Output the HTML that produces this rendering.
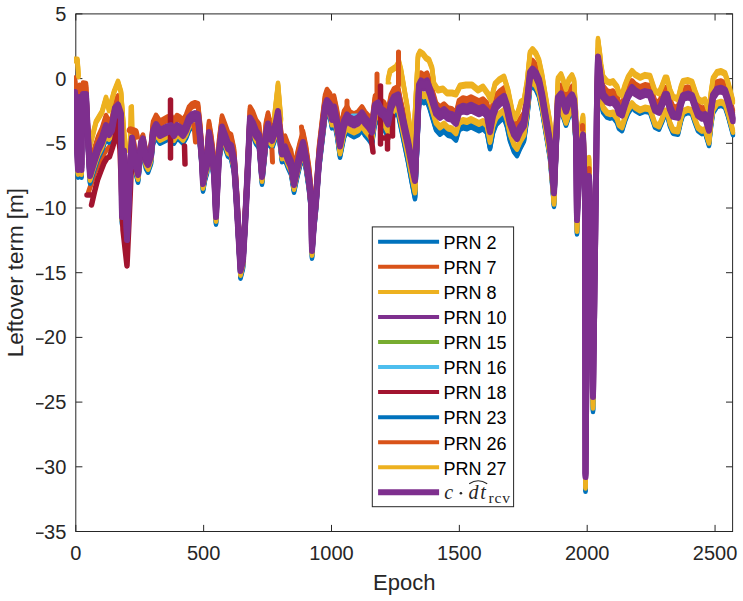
<!DOCTYPE html>
<html><head><meta charset="utf-8"><style>html,body{margin:0;padding:0;background:#fff;width:743px;height:601px;overflow:hidden}svg{display:block}</style></head>
<body><svg width="743" height="601" viewBox="0 0 743 601">
<rect width="743" height="601" fill="#fff"/>
<rect x="75.8" y="13.9" width="656.80" height="517.60" fill="none" stroke="#262626" stroke-width="1"/>
<path d="M75.80,531.5V524.90M75.80,13.9V20.50M203.65,531.5V524.90M203.65,13.9V20.50M331.50,531.5V524.90M331.50,13.9V20.50M459.35,531.5V524.90M459.35,13.9V20.50M587.20,531.5V524.90M587.20,13.9V20.50M715.05,531.5V524.90M715.05,13.9V20.50M75.8,13.90H82.40M732.6,13.90H726.00M75.8,78.60H82.40M732.6,78.60H726.00M75.8,143.30H82.40M732.6,143.30H726.00M75.8,208.00H82.40M732.6,208.00H726.00M75.8,272.70H82.40M732.6,272.70H726.00M75.8,337.40H82.40M732.6,337.40H726.00M75.8,402.10H82.40M732.6,402.10H726.00M75.8,466.80H82.40M732.6,466.80H726.00M75.8,531.50H82.40M732.6,531.50H726.00" stroke="#262626" stroke-width="1" fill="none"/>
<defs><clipPath id="c"><rect x="74" y="0" width="661.5" height="601"/></clipPath></defs>
<g clip-path="url(#c)">
<polyline points="88.5,192.0 91.5,183.0 95.0,172.0 100.0,161.0 105.0,152.0 110.0,146.0 114.0,140.0" fill="none" stroke="#D95319" stroke-width="5" stroke-linejoin="round" stroke-linecap="round"/><polyline points="75.0,103.3 78.0,175.3 79.5,108.3 81.5,175.3 81.8,118.3 83.0,105.3 86.0,105.3 87.5,138.3 90.0,181.3 94.0,168.3 98.0,156.3 102.0,148.3 106.0,136.3 109.0,140.3 112.0,135.8 115.0,118.8 118.0,115.8 121.0,124.8 122.0,222.3 124.0,161.8 127.0,245.3 130.0,178.3 132.0,148.8 135.0,168.3 138.0,180.3 141.0,153.8 143.0,149.8 146.0,166.8 148.0,170.3 151.0,161.8 153.0,141.8 156.0,135.3 160.0,141.3 164.0,139.3 168.0,137.3 171.0,136.3 174.0,141.3 177.0,136.3 180.0,138.3 183.0,141.3 186.0,136.3 189.0,128.3 192.0,125.3 195.0,124.3 198.0,125.3 200.0,143.8 202.0,168.3 203.0,189.3 205.0,178.3 207.0,171.3 209.0,143.3 211.0,155.3 214.0,178.3 216.0,222.3 219.0,161.8 222.0,137.8 225.0,145.8 228.0,154.3 231.0,156.3 234.0,170.3 236.0,198.3 240.5,276.3 243.0,266.3 245.5,223.3 247.0,193.3 248.5,161.8 250.0,128.8 253.0,133.8 256.0,141.8 259.0,145.8 262.0,182.3 266.0,143.8 268.0,134.8 270.0,143.8 272.0,146.3 275.0,137.8 278.0,122.3 280.0,143.8 282.0,159.8 285.0,157.8 288.0,165.8 291.0,172.3 294.0,190.3 297.0,176.3 300.0,163.8 303.0,153.3 306.0,167.8 309.0,188.3 311.0,208.3 312.0,256.3 314.0,228.3 316.0,208.3 319.0,167.8 322.0,141.8 325.0,117.3 327.0,111.3 330.0,115.3 332.0,126.0 334.0,119.2 337.0,134.2 340.0,155.3 344.0,135.4 347.0,129.5 350.0,132.6 354.0,134.8 358.0,132.9 362.0,128.0 365.0,133.1 369.0,137.8 372.0,142.4 375.0,120.5 378.0,118.6 381.0,124.7 384.0,126.8 388.0,134.9 391.0,119.0 394.0,113.1 398.0,111.2 400.0,121.3 404.0,140.6 408.0,160.0 412.0,181.8 415.0,196.8 417.0,150.7 419.0,103.1 421.0,98.4 424.0,100.8 427.0,99.2 430.0,107.5 433.0,117.9 436.0,127.8 440.0,132.3 444.0,129.3 448.0,133.3 452.0,134.3 456.0,138.3 459.0,127.8 463.0,125.8 467.0,126.8 471.0,124.8 475.0,126.8 479.0,128.8 483.0,126.8 487.0,130.8 490.0,146.8 493.0,130.8 496.0,122.8 500.0,118.8 504.0,115.8 507.0,124.8 510.0,138.8 514.0,149.8 517.0,153.8 520.0,146.8 524.0,139.0 527.0,117.6 530.0,87.3 532.5,83.9 536.0,88.0 539.0,94.6 542.0,108.6 545.0,126.7 548.0,144.8 550.0,156.9 554.0,204.5 556.0,157.0 558.0,113.1 561.0,109.2 564.0,117.3 566.0,123.3 569.0,114.4 572.0,110.5 574.0,115.6 576.0,147.6 577.0,232.1 579.0,174.2 583.0,150.8 585.0,214.4 585.5,489.4 587.0,314.4 589.0,192.5 591.0,264.5 593.0,409.6 595.0,264.7 597.0,118.2 598.0,73.2 600.0,88.3 601.0,98.3 603.0,110.3 607.0,115.3 610.0,116.3 613.0,115.3 617.0,120.5 619.0,126.6 622.0,128.8 625.0,119.0 628.0,111.3 632.0,105.1 635.0,108.3 640.0,111.3 645.0,109.3 650.0,110.3 652.0,116.3 655.0,125.3 659.0,127.3 662.0,120.3 665.0,112.3 667.0,112.3 670.0,124.3 673.0,131.3 678.0,132.3 681.0,119.1 683.0,112.8 688.0,110.6 692.0,111.8 695.0,120.8 698.0,128.8 702.0,131.8 705.0,130.8 709.0,143.6 711.0,124.5 713.0,110.9 717.0,104.7 721.0,103.4 725.0,105.2 728.0,114.1 732.0,128.9 733.0,132.8" fill="none" stroke="#0072BD" stroke-width="4.5" stroke-linejoin="round" stroke-linecap="round"/><polyline points="75.0,105.7 78.0,177.7 79.5,110.7 81.5,177.7 81.8,120.7 83.0,107.7 86.0,107.7 87.5,140.7 90.0,183.7 94.0,170.7 98.0,158.7 102.0,150.7 106.0,138.7 109.0,142.7 112.0,138.2 115.0,121.2 118.0,118.2 121.0,127.2 122.0,224.7 124.0,164.2 127.0,247.7 130.0,180.7 132.0,151.2 135.0,170.7 138.0,182.7 141.0,156.2 143.0,152.2 146.0,169.2 148.0,172.7 151.0,164.2 153.0,144.2 156.0,137.7 160.0,143.7 164.0,141.7 168.0,139.7 171.0,138.7 174.0,143.7 177.0,138.7 180.0,140.7 183.0,143.7 186.0,138.7 189.0,130.7 192.0,127.7 195.0,126.7 198.0,127.7 200.0,146.2 202.0,170.7 203.0,191.7 205.0,180.7 207.0,173.7 209.0,145.7 211.0,157.7 214.0,180.7 216.0,224.7 219.0,164.2 222.0,140.2 225.0,148.2 228.0,156.7 231.0,158.7 234.0,172.7 236.0,200.7 240.5,278.7 243.0,268.7 245.5,225.7 247.0,195.7 248.5,164.2 250.0,131.2 253.0,136.2 256.0,144.2 259.0,148.2 262.0,184.7 266.0,146.2 268.0,137.2 270.0,146.2 272.0,148.7 275.0,140.2 278.0,124.7 280.0,146.2 282.0,162.2 285.0,160.2 288.0,168.2 291.0,174.7 294.0,192.7 297.0,178.7 300.0,166.2 303.0,155.7 306.0,170.2 309.0,190.7 311.0,210.7 312.0,258.7 314.0,230.7 316.0,210.7 319.0,170.2 322.0,144.2 325.0,119.7 327.0,113.7 330.0,117.7 332.0,128.4 334.0,121.6 337.0,136.6 340.0,157.7 344.0,137.8 347.0,131.9 350.0,135.0 354.0,137.2 358.0,135.3 362.0,130.4 365.0,135.5 369.0,140.2 372.0,144.8 375.0,122.9 378.0,121.0 381.0,127.1 384.0,129.2 388.0,137.3 391.0,121.4 394.0,115.5 398.0,113.6 400.0,123.7 404.0,143.0 408.0,162.4 412.0,184.2 415.0,199.2 417.0,153.1 419.0,105.5 421.0,100.8 424.0,103.2 427.0,101.6 430.0,110.0 433.0,120.3 436.0,130.2 440.0,134.7 444.0,131.7 448.0,135.7 452.0,136.7 456.0,140.7 459.0,130.2 463.0,128.2 467.0,129.2 471.0,127.2 475.0,129.2 479.0,131.2 483.0,129.2 487.0,133.2 490.0,149.2 493.0,133.2 496.0,125.2 500.0,121.2 504.0,118.2 507.0,127.2 510.0,141.2 514.0,152.2 517.0,156.2 520.0,149.2 524.0,141.4 527.0,120.0 530.0,89.7 532.5,86.3 536.0,90.4 539.0,97.0 542.0,111.0 545.0,129.1 548.0,147.2 550.0,159.3 554.0,206.9 556.0,159.4 558.0,115.5 561.0,111.6 564.0,119.7 566.0,125.7 569.0,116.8 572.0,112.9 574.0,118.0 576.0,150.0 577.0,234.5 579.0,176.6 583.0,153.2 585.0,216.8 585.5,491.8 587.0,316.8 589.0,194.9 591.0,266.9 593.0,412.0 595.0,267.1 597.0,120.6 598.0,75.6 600.0,90.7 601.0,100.7 603.0,112.7 607.0,117.7 610.0,118.7 613.0,117.7 617.0,122.9 619.0,129.0 622.0,131.2 625.0,121.5 628.0,113.7 632.0,107.5 635.0,110.7 640.0,113.7 645.0,111.7 650.0,112.7 652.0,118.7 655.0,127.7 659.0,129.7 662.0,122.7 665.0,114.7 667.0,114.7 670.0,126.7 673.0,133.7 678.0,134.7 681.0,121.5 683.0,115.2 688.0,113.0 692.0,114.2 695.0,123.2 698.0,131.2 702.0,134.2 705.0,133.2 709.0,146.0 711.0,126.9 713.0,113.3 717.0,107.1 721.0,105.8 725.0,107.6 728.0,116.5 732.0,131.3 733.0,135.2" fill="none" stroke="#0072BD" stroke-width="4.5" stroke-linejoin="round" stroke-linecap="round"/><polyline points="75.0,104.5 78.0,176.5 79.5,109.5 81.5,176.5 81.8,119.5 83.0,106.5 86.0,106.5 87.5,139.5 90.0,182.5 94.0,169.5 98.0,157.5 102.0,149.5 106.0,137.5 109.0,141.5 112.0,137.0 115.0,120.0 118.0,117.0 121.0,126.0 122.0,223.5 124.0,163.0 127.0,246.5 130.0,179.5 132.0,150.0 135.0,169.5 138.0,181.5 141.0,155.0 143.0,151.0 146.0,168.0 148.0,171.5 151.0,163.0 153.0,143.0 156.0,136.5 160.0,142.5 164.0,140.5 168.0,138.5 171.0,137.5 174.0,142.5 177.0,137.5 180.0,139.5 183.0,142.5 186.0,137.5 189.0,129.5 192.0,126.5 195.0,125.5 198.0,126.5 200.0,145.0 202.0,169.5 203.0,190.5 205.0,179.5 207.0,172.5 209.0,144.5 211.0,156.5 214.0,179.5 216.0,223.5 219.0,163.0 222.0,139.0 225.0,147.0 228.0,155.5 231.0,157.5 234.0,171.5 236.0,199.5 240.5,277.5 243.0,267.5 245.5,224.5 247.0,194.5 248.5,163.0 250.0,130.0 253.0,135.0 256.0,143.0 259.0,147.0 262.0,183.5 266.0,145.0 268.0,136.0 270.0,145.0 272.0,147.5 275.0,139.0 278.0,123.5 280.0,145.0 282.0,161.0 285.0,159.0 288.0,167.0 291.0,173.5 294.0,191.5 297.0,177.5 300.0,165.0 303.0,154.5 306.0,169.0 309.0,189.5 311.0,209.5 312.0,257.5 314.0,229.5 316.0,209.5 319.0,169.0 322.0,143.0 325.0,118.5 327.0,112.5 330.0,116.5 332.0,127.2 334.0,120.4 337.0,135.4 340.0,156.5 344.0,136.6 347.0,130.7 350.0,133.8 354.0,136.0 358.0,134.1 362.0,129.2 365.0,134.3 369.0,139.0 372.0,143.6 375.0,121.7 378.0,119.8 381.0,125.9 384.0,128.0 388.0,136.1 391.0,120.2 394.0,114.3 398.0,112.4 400.0,122.5 404.0,141.8 408.0,161.2 412.0,183.0 415.0,198.0 417.0,151.9 419.0,104.3 421.0,99.6 424.0,102.0 427.0,100.4 430.0,108.8 433.0,119.1 436.0,129.0 440.0,133.5 444.0,130.5 448.0,134.5 452.0,135.5 456.0,139.5 459.0,129.0 463.0,127.0 467.0,128.0 471.0,126.0 475.0,128.0 479.0,130.0 483.0,128.0 487.0,132.0 490.0,148.0 493.0,132.0 496.0,124.0 500.0,120.0 504.0,117.0 507.0,126.0 510.0,140.0 514.0,151.0 517.0,155.0 520.0,148.0 524.0,140.2 527.0,118.8 530.0,88.5 532.5,85.1 536.0,89.2 539.0,95.8 542.0,109.8 545.0,127.9 548.0,146.0 550.0,158.1 554.0,205.7 556.0,158.2 558.0,114.3 561.0,110.4 564.0,118.5 566.0,124.5 569.0,115.6 572.0,111.7 574.0,116.8 576.0,148.8 577.0,233.3 579.0,175.4 583.0,152.0 585.0,215.6 585.5,490.6 587.0,315.6 589.0,193.7 591.0,265.7 593.0,410.8 595.0,265.9 597.0,119.4 598.0,74.4 600.0,89.5 601.0,99.5 603.0,111.5 607.0,116.5 610.0,117.5 613.0,116.5 617.0,121.7 619.0,127.8 622.0,130.0 625.0,120.2 628.0,112.5 632.0,106.3 635.0,109.5 640.0,112.5 645.0,110.5 650.0,111.5 652.0,117.5 655.0,126.5 659.0,128.5 662.0,121.5 665.0,113.5 667.0,113.5 670.0,125.5 673.0,132.5 678.0,133.5 681.0,120.3 683.0,114.0 688.0,111.8 692.0,113.0 695.0,122.0 698.0,130.0 702.0,133.0 705.0,132.0 709.0,144.8 711.0,125.7 713.0,112.1 717.0,105.9 721.0,104.6 725.0,106.4 728.0,115.3 732.0,130.1 733.0,134.0" fill="none" stroke="#0072BD" stroke-width="4.5" stroke-linejoin="round" stroke-linecap="round"/><polyline points="75.0,100.3 78.0,172.3 79.5,105.3 81.5,172.3 81.8,115.3 83.0,102.3 86.0,102.3 87.5,135.3 90.0,178.3 94.0,165.3 98.0,153.3 102.0,145.3 106.0,133.3 109.0,137.3 112.0,132.8 115.0,115.8 118.0,112.8 121.0,121.8 122.0,219.3 124.0,158.8 127.0,242.3 130.0,175.3 132.0,145.8 135.0,165.3 138.0,177.3 141.0,150.8 143.0,146.8 146.0,163.8 148.0,167.3 151.0,158.8 153.0,138.8 156.0,132.3 160.0,138.3 164.0,136.3 168.0,134.3 171.0,133.3 174.0,138.3 177.0,133.3 180.0,135.3 183.0,138.3 186.0,133.3 189.0,125.3 192.0,122.3 195.0,121.3 198.0,122.3 200.0,140.8 202.0,165.3 203.0,186.3 205.0,175.3 207.0,168.3 209.0,140.3 211.0,152.3 214.0,175.3 216.0,219.3 219.0,158.8 222.0,134.8 225.0,142.8 228.0,151.3 231.0,153.3 234.0,167.3 236.0,195.3 240.5,273.3 243.0,263.3 245.5,220.3 247.0,190.3 248.5,158.8 250.0,125.8 253.0,130.8 256.0,138.8 259.0,142.8 262.0,179.3 266.0,140.8 268.0,131.8 270.0,140.8 272.0,143.3 275.0,134.8 278.0,119.3 280.0,140.8 282.0,156.8 285.0,154.8 288.0,162.8 291.0,169.3 294.0,187.3 297.0,173.3 300.0,160.8 303.0,150.3 306.0,164.8 309.0,185.3 311.0,205.3 312.0,253.3 314.0,225.3 316.0,205.3 319.0,164.8 322.0,138.8 325.0,114.3 327.0,108.3 330.0,112.3 332.0,122.9 334.0,116.0 337.0,130.9 340.0,151.8 344.0,131.8 347.0,125.9 350.0,128.9 354.0,130.9 358.0,129.0 362.0,124.0 365.0,129.0 369.0,133.5 372.0,138.1 375.0,116.1 378.0,114.1 381.0,120.1 384.0,122.2 388.0,130.2 391.0,114.2 394.0,108.2 398.0,106.3 400.0,116.3 404.0,135.4 408.0,154.4 412.0,176.0 415.0,190.8 417.0,144.7 419.0,97.1 421.0,92.4 424.0,94.7 427.0,93.0 430.0,101.3 433.0,111.6 436.0,121.4 440.0,125.8 444.0,122.8 448.0,126.8 452.0,127.8 456.0,131.8 459.0,121.3 463.0,119.3 467.0,120.3 471.0,118.3 475.0,120.3 479.0,122.3 483.0,120.3 487.0,124.3 490.0,140.3 493.0,124.3 496.0,116.3 500.0,112.3 504.0,109.3 507.0,118.3 510.0,132.3 514.0,143.3 517.0,147.3 520.0,140.3 524.0,133.5 527.0,112.9 530.0,83.3 532.5,80.0 536.0,84.4 539.0,91.2 542.0,105.5 545.0,123.8 548.0,142.1 550.0,154.3 554.0,202.2 556.0,154.9 558.0,111.1 561.0,107.3 564.0,115.2 566.0,121.1 569.0,112.1 572.0,108.0 574.0,113.0 576.0,144.9 577.0,229.4 579.0,171.3 583.0,147.7 585.0,211.2 585.5,486.2 587.0,311.1 589.0,189.1 591.0,261.0 593.0,406.0 595.0,260.9 597.0,114.4 598.0,69.3 600.0,84.3 601.0,94.3 603.0,106.4 607.0,111.5 610.0,112.6 613.0,111.7 617.0,117.0 619.0,123.3 622.0,125.7 625.0,116.0 628.0,108.4 632.0,102.4 635.0,105.8 640.0,108.8 645.0,106.8 650.0,107.8 652.0,113.8 655.0,122.8 659.0,124.8 662.0,117.8 665.0,109.8 667.0,109.8 670.0,121.8 673.0,128.8 678.0,129.8 681.0,116.6 683.0,110.3 688.0,108.1 692.0,109.3 695.0,118.3 698.0,126.3 702.0,129.3 705.0,128.3 709.0,141.1 711.0,122.0 713.0,108.4 717.0,102.2 721.0,100.9 725.0,102.7 728.0,111.6 732.0,126.4 733.0,130.3" fill="none" stroke="#EDB120" stroke-width="4.5" stroke-linejoin="round" stroke-linecap="round"/><polyline points="75.0,102.7 78.0,174.7 79.5,107.7 81.5,174.7 81.8,117.7 83.0,104.7 86.0,104.7 87.5,137.7 90.0,180.7 94.0,167.7 98.0,155.7 102.0,147.7 106.0,135.7 109.0,139.7 112.0,135.2 115.0,118.2 118.0,115.2 121.0,124.2 122.0,221.7 124.0,161.2 127.0,244.7 130.0,177.7 132.0,148.2 135.0,167.7 138.0,179.7 141.0,153.2 143.0,149.2 146.0,166.2 148.0,169.7 151.0,161.2 153.0,141.2 156.0,134.7 160.0,140.7 164.0,138.7 168.0,136.7 171.0,135.7 174.0,140.7 177.0,135.7 180.0,137.7 183.0,140.7 186.0,135.7 189.0,127.7 192.0,124.7 195.0,123.7 198.0,124.7 200.0,143.2 202.0,167.7 203.0,188.7 205.0,177.7 207.0,170.7 209.0,142.7 211.0,154.7 214.0,177.7 216.0,221.7 219.0,161.2 222.0,137.2 225.0,145.2 228.0,153.7 231.0,155.7 234.0,169.7 236.0,197.7 240.5,275.7 243.0,265.7 245.5,222.7 247.0,192.7 248.5,161.2 250.0,128.2 253.0,133.2 256.0,141.2 259.0,145.2 262.0,181.7 266.0,143.2 268.0,134.2 270.0,143.2 272.0,145.7 275.0,137.2 278.0,121.7 280.0,143.2 282.0,159.2 285.0,157.2 288.0,165.2 291.0,171.7 294.0,189.7 297.0,175.7 300.0,163.2 303.0,152.7 306.0,167.2 309.0,187.7 311.0,207.7 312.0,255.7 314.0,227.7 316.0,207.7 319.0,167.2 322.0,141.2 325.0,116.7 327.0,110.7 330.0,114.7 332.0,125.3 334.0,118.4 337.0,133.3 340.0,154.2 344.0,134.2 347.0,128.3 350.0,131.3 354.0,133.3 358.0,131.3 362.0,126.4 365.0,131.4 369.0,135.9 372.0,140.5 375.0,118.5 378.0,116.5 381.0,122.5 384.0,124.6 388.0,132.6 391.0,116.6 394.0,110.7 398.0,108.7 400.0,118.7 404.0,137.8 408.0,156.8 412.0,178.4 415.0,193.2 417.0,147.1 419.0,99.5 421.0,94.8 424.0,97.1 427.0,95.4 430.0,103.7 433.0,114.0 436.0,123.8 440.0,128.2 444.0,125.2 448.0,129.2 452.0,130.2 456.0,134.2 459.0,123.7 463.0,121.7 467.0,122.7 471.0,120.7 475.0,122.7 479.0,124.7 483.0,122.7 487.0,126.7 490.0,142.7 493.0,126.7 496.0,118.7 500.0,114.7 504.0,111.7 507.0,120.7 510.0,134.7 514.0,145.7 517.0,149.7 520.0,142.7 524.0,135.9 527.0,115.3 530.0,85.7 532.5,82.5 536.0,86.8 539.0,93.6 542.0,107.9 545.0,126.2 548.0,144.5 550.0,156.7 554.0,204.6 556.0,157.3 558.0,113.5 561.0,109.7 564.0,117.6 566.0,123.5 569.0,114.5 572.0,110.4 574.0,115.4 576.0,147.3 577.0,231.8 579.0,173.7 583.0,150.1 585.0,213.6 585.5,488.6 587.0,313.5 589.0,191.5 591.0,263.4 593.0,408.4 595.0,263.3 597.0,116.8 598.0,71.8 600.0,86.7 601.0,96.7 603.0,108.8 607.0,113.9 610.0,115.0 613.0,114.1 617.0,119.5 619.0,125.7 622.0,128.1 625.0,118.5 628.0,110.8 632.0,104.8 635.0,108.2 640.0,111.2 645.0,109.2 650.0,110.2 652.0,116.2 655.0,125.2 659.0,127.2 662.0,120.2 665.0,112.2 667.0,112.2 670.0,124.2 673.0,131.2 678.0,132.2 681.0,119.0 683.0,112.8 688.0,110.5 692.0,111.7 695.0,120.7 698.0,128.7 702.0,131.7 705.0,130.7 709.0,143.5 711.0,124.4 713.0,110.8 717.0,104.6 721.0,103.3 725.0,105.1 728.0,114.0 732.0,128.8 733.0,132.7" fill="none" stroke="#EDB120" stroke-width="4.5" stroke-linejoin="round" stroke-linecap="round"/><polyline points="75.0,101.5 78.0,173.5 79.5,106.5 81.5,173.5 81.8,116.5 83.0,103.5 86.0,103.5 87.5,136.5 90.0,179.5 94.0,166.5 98.0,154.5 102.0,146.5 106.0,134.5 109.0,138.5 112.0,134.0 115.0,117.0 118.0,114.0 121.0,123.0 122.0,220.5 124.0,160.0 127.0,243.5 130.0,176.5 132.0,147.0 135.0,166.5 138.0,178.5 141.0,152.0 143.0,148.0 146.0,165.0 148.0,168.5 151.0,160.0 153.0,140.0 156.0,133.5 160.0,139.5 164.0,137.5 168.0,135.5 171.0,134.5 174.0,139.5 177.0,134.5 180.0,136.5 183.0,139.5 186.0,134.5 189.0,126.5 192.0,123.5 195.0,122.5 198.0,123.5 200.0,142.0 202.0,166.5 203.0,187.5 205.0,176.5 207.0,169.5 209.0,141.5 211.0,153.5 214.0,176.5 216.0,220.5 219.0,160.0 222.0,136.0 225.0,144.0 228.0,152.5 231.0,154.5 234.0,168.5 236.0,196.5 240.5,274.5 243.0,264.5 245.5,221.5 247.0,191.5 248.5,160.0 250.0,127.0 253.0,132.0 256.0,140.0 259.0,144.0 262.0,180.5 266.0,142.0 268.0,133.0 270.0,142.0 272.0,144.5 275.0,136.0 278.0,120.5 280.0,142.0 282.0,158.0 285.0,156.0 288.0,164.0 291.0,170.5 294.0,188.5 297.0,174.5 300.0,162.0 303.0,151.5 306.0,166.0 309.0,186.5 311.0,206.5 312.0,254.5 314.0,226.5 316.0,206.5 319.0,166.0 322.0,140.0 325.0,115.5 327.0,109.5 330.0,113.5 332.0,124.1 334.0,117.2 337.0,132.1 340.0,153.0 344.0,133.0 347.0,127.1 350.0,130.1 354.0,132.1 358.0,130.2 362.0,125.2 365.0,130.2 369.0,134.7 372.0,139.3 375.0,117.3 378.0,115.3 381.0,121.3 384.0,123.4 388.0,131.4 391.0,115.4 394.0,109.5 398.0,107.5 400.0,117.5 404.0,136.6 408.0,155.6 412.0,177.2 415.0,192.0 417.0,145.9 419.0,98.3 421.0,93.6 424.0,95.9 427.0,94.2 430.0,102.5 433.0,112.8 436.0,122.6 440.0,127.0 444.0,124.0 448.0,128.0 452.0,129.0 456.0,133.0 459.0,122.5 463.0,120.5 467.0,121.5 471.0,119.5 475.0,121.5 479.0,123.5 483.0,121.5 487.0,125.5 490.0,141.5 493.0,125.5 496.0,117.5 500.0,113.5 504.0,110.5 507.0,119.5 510.0,133.5 514.0,144.5 517.0,148.5 520.0,141.5 524.0,134.7 527.0,114.1 530.0,84.5 532.5,81.2 536.0,85.6 539.0,92.4 542.0,106.7 545.0,125.0 548.0,143.3 550.0,155.5 554.0,203.4 556.0,156.1 558.0,112.3 561.0,108.5 564.0,116.4 566.0,122.3 569.0,113.3 572.0,109.2 574.0,114.2 576.0,146.1 577.0,230.6 579.0,172.5 583.0,148.9 585.0,212.4 585.5,487.4 587.0,312.3 589.0,190.3 591.0,262.2 593.0,407.2 595.0,262.1 597.0,115.6 598.0,70.5 600.0,85.5 601.0,95.5 603.0,107.6 607.0,112.7 610.0,113.8 613.0,112.9 617.0,118.2 619.0,124.5 622.0,126.9 625.0,117.2 628.0,109.6 632.0,103.6 635.0,107.0 640.0,110.0 645.0,108.0 650.0,109.0 652.0,115.0 655.0,124.0 659.0,126.0 662.0,119.0 665.0,111.0 667.0,111.0 670.0,123.0 673.0,130.0 678.0,131.0 681.0,117.8 683.0,111.5 688.0,109.3 692.0,110.5 695.0,119.5 698.0,127.5 702.0,130.5 705.0,129.5 709.0,142.3 711.0,123.2 713.0,109.6 717.0,103.4 721.0,102.1 725.0,103.9 728.0,112.8 732.0,127.6 733.0,131.5" fill="none" stroke="#EDB120" stroke-width="4.5" stroke-linejoin="round" stroke-linecap="round"/><polyline points="75.0,77.5 78.0,151.0 79.5,84.8 81.5,152.2 81.8,95.3 83.0,82.5 86.0,83.0 87.5,117.5 90.0,163.0 94.0,149.2 98.0,136.4 102.0,127.7 106.0,115.0 109.0,120.5 112.0,117.5 115.0,99.5 118.0,95.5 121.0,105.4 122.0,203.1 124.0,143.2 127.0,225.4 130.0,156.0 132.0,127.5 135.0,148.5 138.0,163.0 141.0,138.5 143.0,134.5 146.0,151.5 148.0,154.0 151.0,142.5 153.0,121.5 156.0,114.8 160.0,120.7 164.0,118.5 168.0,116.3 171.0,115.2 174.0,120.1 177.0,115.0 180.0,116.8 183.0,119.7 186.0,114.6 189.0,106.5 192.0,103.3 195.0,102.2 198.0,103.1 200.0,121.5 202.0,146.0 203.0,167.0 205.0,156.0 207.0,149.0 209.0,121.0 211.0,133.0 214.0,156.0 216.0,200.0 219.0,139.5 222.0,115.5 225.0,123.5 228.0,132.0 231.0,134.0 234.0,148.0 236.0,176.0 240.5,254.0 243.0,244.0 245.5,201.0 247.0,171.0 248.5,139.5 250.0,106.5 253.0,111.5 256.0,119.5 259.0,123.5 262.0,160.0 266.0,121.5 268.0,112.5 270.0,121.5 272.0,124.0 275.0,115.5 278.0,100.0 280.0,121.5 282.0,137.5 285.0,135.5 288.0,143.5 291.0,150.0 294.0,168.0 297.0,154.0 300.0,141.5 303.0,131.0 306.0,145.5 309.0,166.0 311.0,186.0 312.0,234.0 314.0,206.0 316.0,186.0 319.0,145.5 322.0,119.5 325.0,95.0 327.0,89.0 330.0,93.0 332.0,103.0 334.0,95.5 337.0,109.5 340.0,129.5 344.0,110.8 347.0,106.2 350.0,111.5 354.0,113.5 358.0,111.5 362.0,106.5 365.0,111.5 369.0,116.0 372.0,118.7 375.0,95.5 378.0,93.7 381.0,99.8 384.0,101.9 388.0,110.0 391.0,94.2 394.0,88.3 398.0,86.4 400.0,96.5 404.0,114.5 408.0,132.5 412.0,153.0 415.0,167.0 417.0,122.5 419.0,76.5 421.0,72.5 424.0,74.5 427.0,72.5 430.0,80.5 433.0,91.8 436.0,102.5 440.0,106.5 444.0,103.5 448.0,107.5 452.0,108.5 456.0,112.5 459.0,100.1 463.0,97.5 467.0,98.5 471.0,96.5 475.0,98.5 479.0,100.5 483.0,98.5 487.0,102.5 490.0,118.5 493.0,102.5 496.0,94.5 500.0,90.5 504.0,87.5 507.0,96.5 510.0,110.5 514.0,121.5 517.0,125.5 520.0,118.5 524.0,112.5 527.0,92.5 530.0,63.5 532.5,60.0 536.0,64.1 539.0,70.6 542.0,84.6 545.0,102.7 548.0,120.7 550.0,132.7 554.0,180.3 556.0,132.8 558.0,88.8 561.0,84.9 564.0,92.9 566.0,98.9 569.0,90.0 572.0,86.0 574.0,91.0 576.0,123.0 577.0,207.6 579.0,149.6 583.0,126.1 585.0,189.6 585.5,464.7 587.0,289.7 589.0,167.7 591.0,239.7 593.0,384.7 595.0,239.8 597.0,93.3 598.0,48.3 600.0,63.3 601.0,73.3 603.0,85.4 607.0,90.4 610.0,91.4 613.0,90.5 617.0,95.7 619.0,101.8 622.0,104.0 625.0,94.2 628.0,86.5 632.0,80.3 635.0,83.5 640.0,86.4 645.0,84.3 650.0,85.2 652.0,91.2 655.0,100.1 659.0,102.0 662.0,95.0 665.0,87.0 667.0,87.0 670.0,99.0 673.0,106.0 678.0,107.0 681.0,94.0 683.0,88.0 688.0,86.5 692.0,88.0 695.0,97.0 698.0,105.0 702.0,108.0 705.0,107.0 709.0,120.0 711.0,101.0 713.0,87.5 717.0,81.5 721.0,80.5 725.0,82.5 728.0,91.5 732.0,106.5 733.0,110.5" fill="none" stroke="#D95319" stroke-width="4.5" stroke-linejoin="round" stroke-linecap="round"/><polyline points="75.0,81.5 78.0,155.0 79.5,88.8 81.5,156.2 81.8,99.3 83.0,86.5 86.0,87.0 87.5,121.5 90.0,167.0 94.0,153.2 98.0,140.4 102.0,131.7 106.0,119.0 109.0,124.5 112.0,121.5 115.0,103.5 118.0,99.5 121.0,109.4 122.0,207.1 124.0,147.2 127.0,229.4 130.0,160.0 132.0,131.5 135.0,152.5 138.0,167.0 141.0,142.5 143.0,138.5 146.0,155.5 148.0,158.0 151.0,146.5 153.0,125.5 156.0,118.8 160.0,124.7 164.0,122.5 168.0,120.3 171.0,119.2 174.0,124.1 177.0,119.0 180.0,120.8 183.0,123.7 186.0,118.6 189.0,110.5 192.0,107.3 195.0,106.2 198.0,107.1 200.0,125.5 202.0,150.0 203.0,171.0 205.0,160.0 207.0,153.0 209.0,125.0 211.0,137.0 214.0,160.0 216.0,204.0 219.0,143.5 222.0,119.5 225.0,127.5 228.0,136.0 231.0,138.0 234.0,152.0 236.0,180.0 240.5,258.0 243.0,248.0 245.5,205.0 247.0,175.0 248.5,143.5 250.0,110.5 253.0,115.5 256.0,123.5 259.0,127.5 262.0,164.0 266.0,125.5 268.0,116.5 270.0,125.5 272.0,128.0 275.0,119.5 278.0,104.0 280.0,125.5 282.0,141.5 285.0,139.5 288.0,147.5 291.0,154.0 294.0,172.0 297.0,158.0 300.0,145.5 303.0,135.0 306.0,149.5 309.0,170.0 311.0,190.0 312.0,238.0 314.0,210.0 316.0,190.0 319.0,149.5 322.0,123.5 325.0,99.0 327.0,93.0 330.0,97.0 332.0,107.0 334.0,99.5 337.0,113.5 340.0,133.5 344.0,114.8 347.0,110.2 350.0,115.5 354.0,117.5 358.0,115.5 362.0,110.5 365.0,115.5 369.0,120.0 372.0,122.7 375.0,99.5 378.0,97.7 381.0,103.8 384.0,105.9 388.0,114.0 391.0,98.2 394.0,92.3 398.0,90.4 400.0,100.5 404.0,118.5 408.0,136.5 412.0,157.0 415.0,171.0 417.0,126.5 419.0,80.5 421.0,76.5 424.0,78.5 427.0,76.5 430.0,84.5 433.0,95.8 436.0,106.5 440.0,110.5 444.0,107.5 448.0,111.5 452.0,112.5 456.0,116.5 459.0,104.1 463.0,101.5 467.0,102.5 471.0,100.5 475.0,102.5 479.0,104.5 483.0,102.5 487.0,106.5 490.0,122.5 493.0,106.5 496.0,98.5 500.0,94.5 504.0,91.5 507.0,100.5 510.0,114.5 514.0,125.5 517.0,129.5 520.0,122.5 524.0,116.5 527.0,96.5 530.0,67.5 532.5,64.0 536.0,68.1 539.0,74.6 542.0,88.6 545.0,106.7 548.0,124.7 550.0,136.7 554.0,184.3 556.0,136.8 558.0,92.8 561.0,88.9 564.0,96.9 566.0,102.9 569.0,94.0 572.0,90.0 574.0,95.0 576.0,127.0 577.0,211.6 579.0,153.6 583.0,130.1 585.0,193.6 585.5,468.7 587.0,293.7 589.0,171.7 591.0,243.7 593.0,388.7 595.0,243.8 597.0,97.3 598.0,52.3 600.0,67.3 601.0,77.3 603.0,89.4 607.0,94.4 610.0,95.4 613.0,94.5 617.0,99.7 619.0,105.8 622.0,108.0 625.0,98.2 628.0,90.5 632.0,84.3 635.0,87.5 640.0,90.4 645.0,88.3 650.0,89.2 652.0,95.2 655.0,104.1 659.0,106.0 662.0,99.0 665.0,91.0 667.0,91.0 670.0,103.0 673.0,110.0 678.0,111.0 681.0,98.0 683.0,92.0 688.0,90.5 692.0,92.0 695.0,101.0 698.0,109.0 702.0,112.0 705.0,111.0 709.0,124.0 711.0,105.0 713.0,91.5 717.0,85.5 721.0,84.5 725.0,86.5 728.0,95.5 732.0,110.5 733.0,114.5" fill="none" stroke="#D95319" stroke-width="4.5" stroke-linejoin="round" stroke-linecap="round"/><polyline points="75.0,79.5 78.0,153.0 79.5,86.8 81.5,154.2 81.8,97.3 83.0,84.5 86.0,85.0 87.5,119.5 90.0,165.0 94.0,151.2 98.0,138.4 102.0,129.7 106.0,117.0 109.0,122.5 112.0,119.5 115.0,101.5 118.0,97.5 121.0,107.4 122.0,205.1 124.0,145.2 127.0,227.4 130.0,158.0 132.0,129.5 135.0,150.5 138.0,165.0 141.0,140.5 143.0,136.5 146.0,153.5 148.0,156.0 151.0,144.5 153.0,123.5 156.0,116.8 160.0,122.7 164.0,120.5 168.0,118.3 171.0,117.2 174.0,122.1 177.0,117.0 180.0,118.8 183.0,121.7 186.0,116.6 189.0,108.5 192.0,105.3 195.0,104.2 198.0,105.1 200.0,123.5 202.0,148.0 203.0,169.0 205.0,158.0 207.0,151.0 209.0,123.0 211.0,135.0 214.0,158.0 216.0,202.0 219.0,141.5 222.0,117.5 225.0,125.5 228.0,134.0 231.0,136.0 234.0,150.0 236.0,178.0 240.5,256.0 243.0,246.0 245.5,203.0 247.0,173.0 248.5,141.5 250.0,108.5 253.0,113.5 256.0,121.5 259.0,125.5 262.0,162.0 266.0,123.5 268.0,114.5 270.0,123.5 272.0,126.0 275.0,117.5 278.0,102.0 280.0,123.5 282.0,139.5 285.0,137.5 288.0,145.5 291.0,152.0 294.0,170.0 297.0,156.0 300.0,143.5 303.0,133.0 306.0,147.5 309.0,168.0 311.0,188.0 312.0,236.0 314.0,208.0 316.0,188.0 319.0,147.5 322.0,121.5 325.0,97.0 327.0,91.0 330.0,95.0 332.0,105.0 334.0,97.5 337.0,111.5 340.0,131.5 344.0,112.8 347.0,108.2 350.0,113.5 354.0,115.5 358.0,113.5 362.0,108.5 365.0,113.5 369.0,118.0 372.0,120.7 375.0,97.5 378.0,95.7 381.0,101.8 384.0,103.9 388.0,112.0 391.0,96.2 394.0,90.3 398.0,88.4 400.0,98.5 404.0,116.5 408.0,134.5 412.0,155.0 415.0,169.0 417.0,124.5 419.0,78.5 421.0,74.5 424.0,76.5 427.0,74.5 430.0,82.5 433.0,93.8 436.0,104.5 440.0,108.5 444.0,105.5 448.0,109.5 452.0,110.5 456.0,114.5 459.0,102.1 463.0,99.5 467.0,100.5 471.0,98.5 475.0,100.5 479.0,102.5 483.0,100.5 487.0,104.5 490.0,120.5 493.0,104.5 496.0,96.5 500.0,92.5 504.0,89.5 507.0,98.5 510.0,112.5 514.0,123.5 517.0,127.5 520.0,120.5 524.0,114.5 527.0,94.5 530.0,65.5 532.5,62.0 536.0,66.1 539.0,72.6 542.0,86.6 545.0,104.7 548.0,122.7 550.0,134.7 554.0,182.3 556.0,134.8 558.0,90.8 561.0,86.9 564.0,94.9 566.0,100.9 569.0,92.0 572.0,88.0 574.0,93.0 576.0,125.0 577.0,209.6 579.0,151.6 583.0,128.1 585.0,191.6 585.5,466.7 587.0,291.7 589.0,169.7 591.0,241.7 593.0,386.7 595.0,241.8 597.0,95.3 598.0,50.3 600.0,65.3 601.0,75.3 603.0,87.4 607.0,92.4 610.0,93.4 613.0,92.5 617.0,97.7 619.0,103.8 622.0,106.0 625.0,96.2 628.0,88.5 632.0,82.3 635.0,85.5 640.0,88.4 645.0,86.3 650.0,87.2 652.0,93.2 655.0,102.1 659.0,104.0 662.0,97.0 665.0,89.0 667.0,89.0 670.0,101.0 673.0,108.0 678.0,109.0 681.0,96.0 683.0,90.0 688.0,88.5 692.0,90.0 695.0,99.0 698.0,107.0 702.0,110.0 705.0,109.0 709.0,122.0 711.0,103.0 713.0,89.5 717.0,83.5 721.0,82.5 725.0,84.5 728.0,93.5 732.0,108.5 733.0,112.5" fill="none" stroke="#D95319" stroke-width="4.5" stroke-linejoin="round" stroke-linecap="round"/><polyline points="74.5,58.8 77.5,58.8 78.5,74.8" fill="none" stroke="#EDB120" stroke-width="4.5" stroke-linejoin="round" stroke-linecap="round"/><polyline points="74.5,61.2 77.5,61.2 78.5,77.2" fill="none" stroke="#EDB120" stroke-width="4.5" stroke-linejoin="round" stroke-linecap="round"/><polyline points="74.5,60.0 77.5,60.0 78.5,76.0" fill="none" stroke="#EDB120" stroke-width="4.5" stroke-linejoin="round" stroke-linecap="round"/><polyline points="89.0,148.8 91.0,140.8 96.0,120.8 102.0,110.8 106.0,96.8 109.0,108.8 114.0,90.8 118.0,80.8 121.0,90.8 124.0,130.8 126.0,148.8" fill="none" stroke="#EDB120" stroke-width="4.5" stroke-linejoin="round" stroke-linecap="round"/><polyline points="89.0,151.2 91.0,143.2 96.0,123.2 102.0,113.2 106.0,99.2 109.0,111.2 114.0,93.2 118.0,83.2 121.0,93.2 124.0,133.2 126.0,151.2" fill="none" stroke="#EDB120" stroke-width="4.5" stroke-linejoin="round" stroke-linecap="round"/><polyline points="89.0,150.0 91.0,142.0 96.0,122.0 102.0,112.0 106.0,98.0 109.0,110.0 114.0,92.0 118.0,82.0 121.0,92.0 124.0,132.0 126.0,150.0" fill="none" stroke="#EDB120" stroke-width="4.5" stroke-linejoin="round" stroke-linecap="round"/><polyline points="274.0,118.8 278.0,82.8 281.0,118.8" fill="none" stroke="#EDB120" stroke-width="4.5" stroke-linejoin="round" stroke-linecap="round"/><polyline points="274.0,121.2 278.0,85.2 281.0,121.2" fill="none" stroke="#EDB120" stroke-width="4.5" stroke-linejoin="round" stroke-linecap="round"/><polyline points="274.0,120.0 278.0,84.0 281.0,120.0" fill="none" stroke="#EDB120" stroke-width="4.5" stroke-linejoin="round" stroke-linecap="round"/><polyline points="388.0,78.8 390.0,69.8 396.0,65.8 399.0,60.8 401.0,68.8 407.0,103.8 413.0,148.8 418.0,54.8 420.0,50.8 423.0,52.8 426.0,56.8 429.0,58.8 432.0,66.8 434.0,82.8 438.0,88.8 443.0,87.8 447.0,91.8 452.0,91.8 456.0,92.8 460.0,84.8 466.0,83.8 472.0,83.8 478.0,88.8 483.0,85.8 488.0,92.8 491.0,98.8 495.0,82.8 499.0,78.8 504.0,75.8 508.0,88.8 512.0,108.8 515.0,116.8 518.0,110.8 521.0,100.8 524.0,98.8 527.0,80.4 530.0,51.6 532.5,48.3 536.0,52.5 539.0,59.2 542.0,73.3 545.0,91.3 548.0,109.3 550.0,121.3 554.0,168.8 556.0,121.3 558.0,77.3 561.0,73.3 564.0,81.3 566.0,87.3 569.0,78.3 572.0,74.3 574.0,79.3 576.0,111.4 577.0,196.0 579.0,138.1 583.0,114.9 585.0,178.6 585.5,453.6 587.0,278.8 589.0,156.9 591.0,229.1 593.0,374.2 595.0,229.4 597.0,83.1 598.0,38.1 600.0,53.3 601.0,63.3 603.0,75.3 607.0,80.3 610.0,81.3 613.0,80.3 617.0,85.5 619.0,91.6 622.0,93.8 625.0,84.0 628.0,76.3 632.0,70.1 635.0,73.3 640.0,76.2 645.0,74.1 650.0,75.0 652.0,81.0 655.0,89.9 659.0,91.8 662.0,84.8 665.0,76.8 667.0,76.8 670.0,88.8 673.0,95.8 678.0,97.7 681.0,85.6 683.0,80.2 688.0,79.3 692.0,80.8 695.0,89.8 698.0,97.8 702.0,100.3 705.0,98.5 709.0,110.5 711.0,91.0 713.0,77.3 717.0,71.3 721.0,70.3 725.0,72.3 728.0,81.3 732.0,96.3 733.0,100.3" fill="none" stroke="#EDB120" stroke-width="4.5" stroke-linejoin="round" stroke-linecap="round"/><polyline points="388.0,81.2 390.0,72.2 396.0,68.2 399.0,63.2 401.0,71.2 407.0,106.2 413.0,151.2 418.0,57.2 420.0,53.2 423.0,55.2 426.0,59.2 429.0,61.2 432.0,69.2 434.0,85.2 438.0,91.2 443.0,90.2 447.0,94.2 452.0,94.2 456.0,95.2 460.0,87.2 466.0,86.2 472.0,86.2 478.0,91.2 483.0,88.2 488.0,95.2 491.0,101.2 495.0,85.2 499.0,81.2 504.0,78.2 508.0,91.2 512.0,111.2 515.0,119.2 518.0,113.2 521.0,103.2 524.0,101.2 527.0,82.8 530.0,54.0 532.5,50.7 536.0,54.9 539.0,61.6 542.0,75.7 545.0,93.7 548.0,111.7 550.0,123.7 554.0,171.2 556.0,123.7 558.0,79.7 561.0,75.7 564.0,83.7 566.0,89.7 569.0,80.7 572.0,76.7 574.0,81.7 576.0,113.8 577.0,198.4 579.0,140.5 583.0,117.3 585.0,181.0 585.5,456.0 587.0,281.2 589.0,159.3 591.0,231.5 593.0,376.6 595.0,231.8 597.0,85.5 598.0,40.5 600.0,55.7 601.0,65.7 603.0,77.7 607.0,82.7 610.0,83.7 613.0,82.7 617.0,87.9 619.0,94.0 622.0,96.2 625.0,86.5 628.0,78.7 632.0,72.5 635.0,75.7 640.0,78.6 645.0,76.5 650.0,77.4 652.0,83.4 655.0,92.3 659.0,94.2 662.0,87.2 665.0,79.2 667.0,79.2 670.0,91.2 673.0,98.2 678.0,100.1 681.0,88.0 683.0,82.6 688.0,81.7 692.0,83.2 695.0,92.2 698.0,100.2 702.0,102.7 705.0,101.0 709.0,113.0 711.0,93.5 713.0,79.7 717.0,73.7 721.0,72.7 725.0,74.7 728.0,83.7 732.0,98.7 733.0,102.7" fill="none" stroke="#EDB120" stroke-width="4.5" stroke-linejoin="round" stroke-linecap="round"/><polyline points="388.0,80.0 390.0,71.0 396.0,67.0 399.0,62.0 401.0,70.0 407.0,105.0 413.0,150.0 418.0,56.0 420.0,52.0 423.0,54.0 426.0,58.0 429.0,60.0 432.0,68.0 434.0,84.0 438.0,90.0 443.0,89.0 447.0,93.0 452.0,93.0 456.0,94.0 460.0,86.0 466.0,85.0 472.0,85.0 478.0,90.0 483.0,87.0 488.0,94.0 491.0,100.0 495.0,84.0 499.0,80.0 504.0,77.0 508.0,90.0 512.0,110.0 515.0,118.0 518.0,112.0 521.0,102.0 524.0,100.0 527.0,81.6 530.0,52.8 532.5,49.5 536.0,53.7 539.0,60.4 542.0,74.5 545.0,92.5 548.0,110.5 550.0,122.5 554.0,170.0 556.0,122.5 558.0,78.5 561.0,74.5 564.0,82.5 566.0,88.5 569.0,79.5 572.0,75.5 574.0,80.5 576.0,112.6 577.0,197.2 579.0,139.3 583.0,116.1 585.0,179.8 585.5,454.8 587.0,280.0 589.0,158.1 591.0,230.3 593.0,375.4 595.0,230.6 597.0,84.3 598.0,39.3 600.0,54.5 601.0,64.5 603.0,76.5 607.0,81.5 610.0,82.5 613.0,81.5 617.0,86.7 619.0,92.8 622.0,95.0 625.0,85.2 628.0,77.5 632.0,71.3 635.0,74.5 640.0,77.4 645.0,75.3 650.0,76.2 652.0,82.2 655.0,91.1 659.0,93.0 662.0,86.0 665.0,78.0 667.0,78.0 670.0,90.0 673.0,97.0 678.0,98.9 681.0,86.8 683.0,81.4 688.0,80.5 692.0,82.0 695.0,91.0 698.0,99.0 702.0,101.5 705.0,99.8 709.0,111.8 711.0,92.2 713.0,78.5 717.0,72.5 721.0,71.5 725.0,73.5 728.0,82.5 732.0,97.5 733.0,101.5" fill="none" stroke="#EDB120" stroke-width="4.5" stroke-linejoin="round" stroke-linecap="round"/><polyline points="129.5,150.0 130.5,107.0 132.0,106.0 133.0,140.0" fill="none" stroke="#EDB120" stroke-width="4" stroke-linejoin="round" stroke-linecap="round"/><polyline points="387.0,83.0 390.0,83.0" fill="none" stroke="#EDB120" stroke-width="3" stroke-linejoin="round" stroke-linecap="round"/><polyline points="130.5,130.0 135.0,131.5 136.0,136.0" fill="none" stroke="#D95319" stroke-width="7.5" stroke-linejoin="round" stroke-linecap="round"/><polyline points="301.5,127.0 302.5,138.0" fill="none" stroke="#D95319" stroke-width="5" stroke-linejoin="round" stroke-linecap="round"/><polyline points="194.0,125.0 195.5,142.0" fill="none" stroke="#D95319" stroke-width="5" stroke-linejoin="round" stroke-linecap="round"/><polyline points="272.0,150.0 272.5,162.0" fill="none" stroke="#D95319" stroke-width="5" stroke-linejoin="round" stroke-linecap="round"/><polyline points="582.5,125.5 582.5,129.5" fill="none" stroke="#D95319" stroke-width="5" stroke-linejoin="round" stroke-linecap="round"/><polyline points="589.0,168.5 589.0,172.5" fill="none" stroke="#D95319" stroke-width="5" stroke-linejoin="round" stroke-linecap="round"/><polyline points="347.0,115.0 347.0,101.0" fill="none" stroke="#D95319" stroke-width="5" stroke-linejoin="round" stroke-linecap="round"/><polyline points="377.0,100.0 377.0,74.0" fill="none" stroke="#D95319" stroke-width="5" stroke-linejoin="round" stroke-linecap="round"/><polyline points="398.5,85.0 398.5,52.0" fill="none" stroke="#D95319" stroke-width="5" stroke-linejoin="round" stroke-linecap="round"/><polyline points="352.0,115.0 360.0,115.0" fill="none" stroke="#4DBEEE" stroke-width="3" stroke-linejoin="round" stroke-linecap="round"/><polyline points="87.0,195.0 91.5,195.0" fill="none" stroke="#A2142F" stroke-width="5.5" stroke-linejoin="round" stroke-linecap="round"/><polyline points="91.5,205.0 94.5,192.0 97.5,180.0 100.5,172.0 104.0,163.0 107.0,158.0 109.4,157.0 112.4,148.0 114.7,140.0 116.0,132.0 117.0,120.0 120.0,150.0 123.0,230.0 127.0,266.0 130.0,200.0 132.0,150.0" fill="none" stroke="#A2142F" stroke-width="5.5" stroke-linejoin="round" stroke-linecap="round"/><polyline points="170.5,100.0 170.5,158.0" fill="none" stroke="#A2142F" stroke-width="5.5" stroke-linejoin="round" stroke-linecap="round"/><polyline points="184.5,146.0 185.0,164.0" fill="none" stroke="#A2142F" stroke-width="5.5" stroke-linejoin="round" stroke-linecap="round"/><polyline points="371.0,136.0 373.0,152.0" fill="none" stroke="#A2142F" stroke-width="5.5" stroke-linejoin="round" stroke-linecap="round"/><polyline points="380.5,86.0 380.5,144.0" fill="none" stroke="#A2142F" stroke-width="5.5" stroke-linejoin="round" stroke-linecap="round"/><polyline points="387.5,136.0 387.5,149.0" fill="none" stroke="#A2142F" stroke-width="5.5" stroke-linejoin="round" stroke-linecap="round"/><polyline points="392.5,116.0 392.5,136.0" fill="none" stroke="#A2142F" stroke-width="5.5" stroke-linejoin="round" stroke-linecap="round"/><polyline points="382.0,138.0 388.0,138.0" fill="none" stroke="#A2142F" stroke-width="5.5" stroke-linejoin="round" stroke-linecap="round"/><polyline points="75.0,92.0 78.0,164.0 79.5,97.0 81.5,164.0 81.8,107.0 83.0,94.0 86.0,94.0 87.5,127.0 90.0,170.0 94.0,157.0 98.0,145.0 102.0,137.0 106.0,125.0 109.0,129.0 112.0,124.5 115.0,107.5 118.0,104.5 121.0,113.5 122.0,211.0 124.0,150.5 127.0,234.0 130.0,167.0 132.0,137.5 135.0,157.0 138.0,169.0 141.0,142.5 143.0,138.5 146.0,155.5 148.0,159.0 151.0,150.5 153.0,130.5 156.0,124.0 160.0,130.0 164.0,128.0 168.0,126.0 171.0,125.0 174.0,130.0 177.0,125.0 180.0,127.0 183.0,130.0 186.0,125.0 189.0,117.0 192.0,114.0 195.0,113.0 198.0,114.0 200.0,132.5 202.0,157.0 203.0,178.0 205.0,167.0 207.0,160.0 209.0,132.0 211.0,144.0 214.0,167.0 216.0,211.0 219.0,150.5 222.0,126.5 225.0,134.5 228.0,143.0 231.0,145.0 234.0,159.0 236.0,187.0 240.5,265.0 243.0,255.0 245.5,212.0 247.0,182.0 248.5,150.5 250.0,117.5 253.0,122.5 256.0,130.5 259.0,134.5 262.0,171.0 266.0,132.5 268.0,123.5 270.0,132.5 272.0,135.0 275.0,126.5 278.0,111.0 280.0,132.5 282.0,148.5 285.0,146.5 288.0,154.5 291.0,161.0 294.0,179.0 297.0,165.0 300.0,152.5 303.0,142.0 306.0,156.5 309.0,177.0 311.0,197.0 312.0,245.0 314.0,217.0 316.0,197.0 319.0,156.5 322.0,130.5 325.0,106.0 327.0,100.0 330.0,104.0 332.0,114.0 334.0,106.5 337.0,120.5 340.0,140.5 344.0,120.5 347.0,114.5 350.0,117.5 354.0,119.5 358.0,117.5 362.0,112.5 365.0,117.5 369.0,122.0 372.0,126.5 375.0,104.5 378.0,102.5 381.0,108.5 384.0,110.5 388.0,118.5 391.0,102.5 394.0,96.5 398.0,94.5 400.0,104.5 404.0,122.5 408.0,140.5 412.0,161.0 415.0,175.0 417.0,130.5 419.0,84.5 421.0,80.5 424.0,82.5 427.0,80.5 430.0,88.5 433.0,98.6 436.0,108.1 440.0,112.1 444.0,109.1 448.0,113.1 452.0,114.2 456.0,118.2 459.0,107.7 463.0,105.7 467.0,106.7 471.0,104.8 475.0,106.8 479.0,108.8 483.0,106.8 487.0,110.8 490.0,126.8 493.0,110.9 496.0,102.9 500.0,98.9 504.0,95.9 507.0,104.9 510.0,119.0 514.0,130.0 517.0,134.0 520.0,127.0 524.0,121.0 527.0,101.0 530.0,72.1 532.5,68.6 536.0,72.6 539.0,79.1 542.0,93.1 545.0,111.2 548.0,129.2 550.0,141.2 554.0,188.7 556.0,141.2 558.0,97.2 561.0,93.3 564.0,101.3 566.0,107.3 569.0,98.3 572.0,94.3 574.0,99.3 576.0,131.3 577.0,215.9 579.0,157.9 583.0,134.4 585.0,197.9 585.5,472.9 587.0,297.9 589.0,175.9 591.0,247.9 593.0,393.0 595.0,248.0 597.0,101.5 598.0,56.5 600.0,71.5 601.0,81.5 603.0,93.5 607.0,98.5 610.0,99.5 613.0,98.5 617.0,103.5 619.0,109.5 622.0,111.5 625.0,101.5 628.0,93.5 632.0,87.0 635.0,90.1 640.0,93.1 645.0,91.1 650.0,92.1 652.0,98.1 655.0,107.1 659.0,109.1 662.0,102.1 665.0,94.1 667.0,94.1 670.0,106.1 673.0,113.1 678.0,114.1 681.0,101.1 683.0,95.1 688.0,93.6 692.0,95.1 695.0,104.1 698.0,112.1 702.0,115.2 705.0,114.2 709.0,127.2 711.0,108.2 713.0,94.7 717.0,88.7 721.0,87.7 725.0,89.7 728.0,98.7 732.0,113.7 733.0,117.7" fill="none" stroke="#7E2F8E" stroke-width="6" stroke-linejoin="round" stroke-linecap="round"/><polyline points="75.0,98.0 78.0,170.0 79.5,103.0 81.5,170.0 81.8,113.0 83.0,100.0 86.0,100.0 87.5,133.0 90.0,176.0 94.0,163.0 98.0,151.0 102.0,143.0 106.0,131.0 109.0,135.0 112.0,130.5 115.0,113.5 118.0,110.5 121.0,119.5 122.0,217.0 124.0,156.5 127.0,240.0 130.0,173.0 132.0,143.5 135.0,163.0 138.0,175.0 141.0,148.5 143.0,144.5 146.0,161.5 148.0,165.0 151.0,156.5 153.0,136.5 156.0,130.0 160.0,136.0 164.0,134.0 168.0,132.0 171.0,131.0 174.0,136.0 177.0,131.0 180.0,133.0 183.0,136.0 186.0,131.0 189.0,123.0 192.0,120.0 195.0,119.0 198.0,120.0 200.0,138.5 202.0,163.0 203.0,184.0 205.0,173.0 207.0,166.0 209.0,138.0 211.0,150.0 214.0,173.0 216.0,217.0 219.0,156.5 222.0,132.5 225.0,140.5 228.0,149.0 231.0,151.0 234.0,165.0 236.0,193.0 240.5,271.0 243.0,261.0 245.5,218.0 247.0,188.0 248.5,156.5 250.0,123.5 253.0,128.5 256.0,136.5 259.0,140.5 262.0,177.0 266.0,138.5 268.0,129.5 270.0,138.5 272.0,141.0 275.0,132.5 278.0,117.0 280.0,138.5 282.0,154.5 285.0,152.5 288.0,160.5 291.0,167.0 294.0,185.0 297.0,171.0 300.0,158.5 303.0,148.0 306.0,162.5 309.0,183.0 311.0,203.0 312.0,251.0 314.0,223.0 316.0,203.0 319.0,162.5 322.0,136.5 325.0,112.0 327.0,106.0 330.0,110.0 332.0,120.0 334.0,112.5 337.0,126.5 340.0,146.5 344.0,126.5 347.0,120.5 350.0,123.5 354.0,125.5 358.0,123.5 362.0,118.5 365.0,123.5 369.0,128.0 372.0,132.5 375.0,110.5 378.0,108.5 381.0,114.5 384.0,116.5 388.0,124.5 391.0,108.5 394.0,102.5 398.0,100.5 400.0,110.5 404.0,128.5 408.0,146.5 412.0,167.0 415.0,181.0 417.0,136.5 419.0,90.5 421.0,86.5 424.0,88.5 427.0,86.5 430.0,94.5 433.0,104.4 436.0,113.9 440.0,117.9 444.0,114.9 448.0,118.9 452.0,119.8 456.0,123.8 459.0,113.3 463.0,111.3 467.0,112.3 471.0,110.2 475.0,112.2 479.0,114.2 483.0,112.2 487.0,116.2 490.0,132.2 493.0,116.1 496.0,108.1 500.0,104.1 504.0,101.1 507.0,110.1 510.0,124.0 514.0,135.0 517.0,139.0 520.0,132.0 524.0,126.0 527.0,106.0 530.0,76.9 532.5,73.4 536.0,77.4 539.0,83.9 542.0,97.9 545.0,115.8 548.0,133.8 550.0,145.8 554.0,193.3 556.0,145.8 558.0,101.8 561.0,97.7 564.0,105.7 566.0,111.7 569.0,102.7 572.0,98.7 574.0,103.7 576.0,135.7 577.0,220.1 579.0,162.1 583.0,138.6 585.0,202.1 585.5,477.1 587.0,302.1 589.0,180.1 591.0,252.1 593.0,397.0 595.0,252.0 597.0,105.5 598.0,60.5 600.0,75.5 601.0,85.5 603.0,97.5 607.0,102.5 610.0,103.5 613.0,102.5 617.0,107.5 619.0,113.5 622.0,115.5 625.0,105.5 628.0,97.5 632.0,91.0 635.0,93.9 640.0,96.9 645.0,94.9 650.0,95.9 652.0,101.9 655.0,110.9 659.0,112.9 662.0,105.9 665.0,97.9 667.0,97.9 670.0,109.9 673.0,116.9 678.0,117.9 681.0,104.9 683.0,98.9 688.0,97.4 692.0,98.9 695.0,107.9 698.0,115.9 702.0,118.8 705.0,117.8 709.0,130.8 711.0,111.8 713.0,98.3 717.0,92.3 721.0,91.3 725.0,93.3 728.0,102.3 732.0,117.3 733.0,121.3" fill="none" stroke="#7E2F8E" stroke-width="6" stroke-linejoin="round" stroke-linecap="round"/><polyline points="75.0,95.0 78.0,167.0 79.5,100.0 81.5,167.0 81.8,110.0 83.0,97.0 86.0,97.0 87.5,130.0 90.0,173.0 94.0,160.0 98.0,148.0 102.0,140.0 106.0,128.0 109.0,132.0 112.0,127.5 115.0,110.5 118.0,107.5 121.0,116.5 122.0,214.0 124.0,153.5 127.0,237.0 130.0,170.0 132.0,140.5 135.0,160.0 138.0,172.0 141.0,145.5 143.0,141.5 146.0,158.5 148.0,162.0 151.0,153.5 153.0,133.5 156.0,127.0 160.0,133.0 164.0,131.0 168.0,129.0 171.0,128.0 174.0,133.0 177.0,128.0 180.0,130.0 183.0,133.0 186.0,128.0 189.0,120.0 192.0,117.0 195.0,116.0 198.0,117.0 200.0,135.5 202.0,160.0 203.0,181.0 205.0,170.0 207.0,163.0 209.0,135.0 211.0,147.0 214.0,170.0 216.0,214.0 219.0,153.5 222.0,129.5 225.0,137.5 228.0,146.0 231.0,148.0 234.0,162.0 236.0,190.0 240.5,268.0 243.0,258.0 245.5,215.0 247.0,185.0 248.5,153.5 250.0,120.5 253.0,125.5 256.0,133.5 259.0,137.5 262.0,174.0 266.0,135.5 268.0,126.5 270.0,135.5 272.0,138.0 275.0,129.5 278.0,114.0 280.0,135.5 282.0,151.5 285.0,149.5 288.0,157.5 291.0,164.0 294.0,182.0 297.0,168.0 300.0,155.5 303.0,145.0 306.0,159.5 309.0,180.0 311.0,200.0 312.0,248.0 314.0,220.0 316.0,200.0 319.0,159.5 322.0,133.5 325.0,109.0 327.0,103.0 330.0,107.0 332.0,117.0 334.0,109.5 337.0,123.5 340.0,143.5 344.0,123.5 347.0,117.5 350.0,120.5 354.0,122.5 358.0,120.5 362.0,115.5 365.0,120.5 369.0,125.0 372.0,129.5 375.0,107.5 378.0,105.5 381.0,111.5 384.0,113.5 388.0,121.5 391.0,105.5 394.0,99.5 398.0,97.5 400.0,107.5 404.0,125.5 408.0,143.5 412.0,164.0 415.0,178.0 417.0,133.5 419.0,87.5 421.0,83.5 424.0,85.5 427.0,83.5 430.0,91.5 433.0,101.5 436.0,111.0 440.0,115.0 444.0,112.0 448.0,116.0 452.0,117.0 456.0,121.0 459.0,110.5 463.0,108.5 467.0,109.5 471.0,107.5 475.0,109.5 479.0,111.5 483.0,109.5 487.0,113.5 490.0,129.5 493.0,113.5 496.0,105.5 500.0,101.5 504.0,98.5 507.0,107.5 510.0,121.5 514.0,132.5 517.0,136.5 520.0,129.5 524.0,123.5 527.0,103.5 530.0,74.5 532.5,71.0 536.0,75.0 539.0,81.5 542.0,95.5 545.0,113.5 548.0,131.5 550.0,143.5 554.0,191.0 556.0,143.5 558.0,99.5 561.0,95.5 564.0,103.5 566.0,109.5 569.0,100.5 572.0,96.5 574.0,101.5 576.0,133.5 577.0,218.0 579.0,160.0 583.0,136.5 585.0,200.0 585.5,475.0 587.0,300.0 589.0,178.0 591.0,250.0 593.0,395.0 595.0,250.0 597.0,103.5 598.0,58.5 600.0,73.5 601.0,83.5 603.0,95.5 607.0,100.5 610.0,101.5 613.0,100.5 617.0,105.5 619.0,111.5 622.0,113.5 625.0,103.5 628.0,95.5 632.0,89.0 635.0,92.0 640.0,95.0 645.0,93.0 650.0,94.0 652.0,100.0 655.0,109.0 659.0,111.0 662.0,104.0 665.0,96.0 667.0,96.0 670.0,108.0 673.0,115.0 678.0,116.0 681.0,103.0 683.0,97.0 688.0,95.5 692.0,97.0 695.0,106.0 698.0,114.0 702.0,117.0 705.0,116.0 709.0,129.0 711.0,110.0 713.0,96.5 717.0,90.5 721.0,89.5 725.0,91.5 728.0,100.5 732.0,115.5 733.0,119.5" fill="none" stroke="#7E2F8E" stroke-width="6" stroke-linejoin="round" stroke-linecap="round"/>
</g>
<g font-family="Liberation Sans, sans-serif" font-size="20" fill="#262626"><text x="75.80" y="559.6" text-anchor="middle">0</text><text x="203.65" y="559.6" text-anchor="middle">500</text><text x="331.50" y="559.6" text-anchor="middle">1000</text><text x="459.35" y="559.6" text-anchor="middle">1500</text><text x="587.20" y="559.6" text-anchor="middle">2000</text><text x="715.05" y="559.6" text-anchor="middle">2500</text><text x="66.3" y="20.90" text-anchor="end">5</text><text x="66.3" y="85.60" text-anchor="end">0</text><text x="66.3" y="150.30" text-anchor="end">5</text><rect x="46.5" y="144.25" width="7.6" height="1.5"/><text x="66.3" y="215.00" text-anchor="end">10</text><rect x="36.0" y="208.95" width="7.6" height="1.5"/><text x="66.3" y="279.70" text-anchor="end">15</text><rect x="36.0" y="273.65" width="7.6" height="1.5"/><text x="66.3" y="344.40" text-anchor="end">20</text><rect x="36.0" y="338.35" width="7.6" height="1.5"/><text x="66.3" y="409.10" text-anchor="end">25</text><rect x="36.0" y="403.05" width="7.6" height="1.5"/><text x="66.3" y="473.80" text-anchor="end">30</text><rect x="36.0" y="467.75" width="7.6" height="1.5"/><text x="66.3" y="538.50" text-anchor="end">35</text><rect x="36.0" y="532.45" width="7.6" height="1.5"/></g>
<text x="404.2" y="589.5" text-anchor="middle" font-family="Liberation Sans, sans-serif" font-size="22" fill="#262626">Epoch</text>
<text transform="translate(22.6,272.7) rotate(-90)" x="0" y="0" text-anchor="middle" font-family="Liberation Sans, sans-serif" font-size="22.4" fill="#262626">Leftover term [m]</text>
<rect x="372.3" y="226.9" width="141.30" height="279.80" fill="#fff" stroke="#262626" stroke-width="1"/>
<g font-family="Liberation Sans, sans-serif" font-size="18" fill="#000"><line x1="378.1" x2="439.1" y1="241.80" y2="241.80" stroke="#0072BD" stroke-width="4"/><text x="443.6" y="249.10">PRN 2</text><line x1="378.1" x2="439.1" y1="266.85" y2="266.85" stroke="#D95319" stroke-width="4"/><text x="443.6" y="274.15">PRN 7</text><line x1="378.1" x2="439.1" y1="291.90" y2="291.90" stroke="#EDB120" stroke-width="4"/><text x="443.6" y="299.20">PRN 8</text><line x1="378.1" x2="439.1" y1="316.95" y2="316.95" stroke="#7E2F8E" stroke-width="4"/><text x="443.6" y="324.25">PRN 10</text><line x1="378.1" x2="439.1" y1="342.00" y2="342.00" stroke="#77AC30" stroke-width="4"/><text x="443.6" y="349.30">PRN 15</text><line x1="378.1" x2="439.1" y1="367.05" y2="367.05" stroke="#4DBEEE" stroke-width="4"/><text x="443.6" y="374.35">PRN 16</text><line x1="378.1" x2="439.1" y1="392.10" y2="392.10" stroke="#A2142F" stroke-width="4"/><text x="443.6" y="399.40">PRN 18</text><line x1="378.1" x2="439.1" y1="417.15" y2="417.15" stroke="#0072BD" stroke-width="4"/><text x="443.6" y="424.45">PRN 23</text><line x1="378.1" x2="439.1" y1="442.20" y2="442.20" stroke="#D95319" stroke-width="4"/><text x="443.6" y="449.50">PRN 26</text><line x1="378.1" x2="439.1" y1="467.25" y2="467.25" stroke="#EDB120" stroke-width="4"/><text x="443.6" y="474.55">PRN 27</text><line x1="378.1" x2="439.1" y1="492.30" y2="492.30" stroke="#7E2F8E" stroke-width="6"/><g font-family="Liberation Serif, serif" fill="#262626">
<text x="444.2" y="498.9" font-style="italic" font-size="20">c</text>
<circle cx="460.9" cy="493.2" r="1.3" fill="#262626"/>
<text x="468.6" y="498.6" font-style="italic" font-size="20" letter-spacing="1.6">dt</text>
<text x="488.5" y="502.6" font-size="15.5" letter-spacing="0.9">rcv</text>
<path d="M469.2,483.8 Q478.2,477.6 487.2,483.8" fill="none" stroke="#262626" stroke-width="1.1"/>
</g></g>
</svg></body></html>
